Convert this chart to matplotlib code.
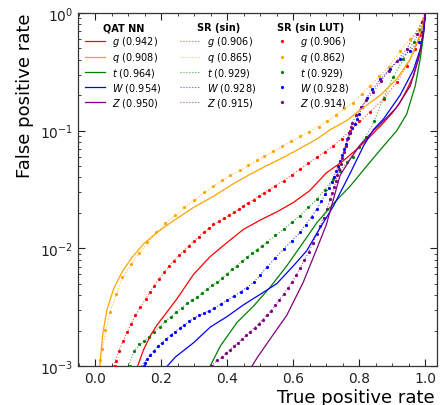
import numpy as np
import matplotlib
matplotlib.use("Agg")
import matplotlib.pyplot as plt
from matplotlib.ticker import MultipleLocator, LogLocator, NullFormatter

# ---------------------------------------------------------------------------
# ROC curves: (true positive rate, false positive rate) pairs per jet class
# ---------------------------------------------------------------------------
classes = ["g", "q", "t", "W", "Z"]
colors = ["red", "orange", "green", "blue", "purple"]

auc_qat = [0.942, 0.908, 0.964, 0.954, 0.950]
auc_sr = [0.906, 0.865, 0.929, 0.928, 0.915]
auc_lut = [0.906, 0.862, 0.929, 0.928, 0.914]

# QAT NN
qat_g = [(0.128, 1.00e-3), (0.146, 1.38e-3), (0.167, 1.82e-3), (0.187, 2.24e-3), (0.217, 2.88e-3),
         (0.247, 3.72e-3), (0.298, 6.03e-3), (0.348, 8.51e-3), (0.399, 1.12e-2), (0.449, 1.45e-2),
         (0.50, 1.74e-2), (0.55, 2.04e-2), (0.60, 2.45e-2), (0.65, 3.09e-2), (0.70, 4.37e-2),
         (0.75, 5.50e-2), (0.80, 7.24e-2), (0.84, 9.33e-2), (0.874, 0.117), (0.90, 0.141),
         (0.924, 0.174), (0.945, 0.224), (0.965, 0.295), (0.987, 0.490), (0.997, 0.776), (1.0, 1.0)]
qat_q = [(0.013, 1.00e-3), (0.015, 1.17e-3), (0.023, 1.95e-3), (0.035, 3.02e-3), (0.055, 4.52e-3),
         (0.081, 6.31e-3), (0.111, 8.39e-3), (0.146, 1.09e-2), (0.187, 1.37e-2), (0.237, 1.72e-2),
         (0.298, 2.23e-2), (0.358, 2.77e-2), (0.419, 3.55e-2), (0.47, 4.27e-2), (0.52, 5.05e-2),
         (0.571, 5.94e-2), (0.621, 7.08e-2), (0.672, 8.51e-2), (0.712, 0.102), (0.763, 0.122),
         (0.80, 0.148), (0.864, 0.200), (0.914, 0.275), (0.955, 0.407), (0.98, 0.603),
         (0.995, 0.832), (1.0, 1.0)]
qat_t = [(0.348, 1.00e-3), (0.379, 1.48e-3), (0.429, 2.34e-3), (0.48, 3.24e-3), (0.53, 4.68e-3),
         (0.58, 7.08e-3), (0.63, 1.12e-2), (0.672, 1.66e-2), (0.722, 2.40e-2), (0.773, 3.39e-2),
         (0.823, 5.01e-2), (0.874, 7.41e-2), (0.914, 0.100), (0.944, 0.138), (0.97, 0.240),
         (0.985, 0.407), (0.995, 0.646), (1.0, 1.0)]
qat_W = [(0.218, 1.00e-3), (0.242, 1.19e-3), (0.298, 1.58e-3), (0.348, 2.14e-3), (0.399, 2.63e-3),
         (0.449, 3.31e-3), (0.50, 4.07e-3), (0.55, 5.01e-3), (0.60, 7.08e-3), (0.641, 9.55e-3),
         (0.672, 1.35e-2), (0.722, 2.29e-2), (0.773, 4.37e-2), (0.813, 7.41e-2), (0.843, 0.102),
         (0.874, 0.126), (0.924, 0.200), (0.965, 0.331), (0.985, 0.490), (0.997, 0.724), (1.0, 1.0)]
qat_Z = [(0.475, 1.00e-3), (0.49, 1.17e-3), (0.53, 1.70e-3), (0.58, 2.69e-3), (0.63, 5.13e-3),
         (0.672, 1.00e-2), (0.70, 1.58e-2), (0.742, 4.17e-2), (0.773, 5.75e-2), (0.803, 7.59e-2),
         (0.843, 0.100), (0.88, 0.126), (0.914, 0.158), (0.955, 0.240), (0.98, 0.407),
         (0.993, 0.646), (1.0, 1.0)]

# SR (sin)
sr_g = [(0.055, 1.00e-3), (0.071, 1.35e-3), (0.096, 1.94e-3), (0.121, 2.69e-3), (0.152, 3.72e-3),
        (0.192, 5.50e-3), (0.237, 7.87e-3), (0.283, 1.05e-2), (0.328, 1.37e-2), (0.374, 1.70e-2),
        (0.419, 2.02e-2), (0.464, 2.44e-2), (0.51, 2.96e-2), (0.571, 3.76e-2), (0.621, 4.73e-2),
        (0.672, 5.94e-2), (0.722, 7.46e-2), (0.773, 0.100), (0.833, 0.145), (0.874, 0.186),
        (0.914, 0.257), (0.944, 0.355), (0.97, 0.490), (0.995, 0.832), (1.0, 1.0)]
sr_q = [(0.013, 1.00e-3), (0.02, 1.38e-3), (0.043, 2.85e-3), (0.081, 5.60e-3), (0.131, 9.00e-3),
        (0.184, 1.35e-2), (0.24, 1.90e-2), (0.298, 2.55e-2), (0.355, 3.35e-2), (0.409, 4.15e-2),
        (0.464, 5.05e-2), (0.538, 6.65e-2), (0.621, 8.90e-2), (0.702, 0.120), (0.78, 0.172),
        (0.833, 0.241), (0.889, 0.346), (0.924, 0.479), (0.955, 0.601), (0.98, 0.731), (1.0, 1.0)]
sr_t = [(0.10, 1.00e-3), (0.118, 1.35e-3), (0.146, 1.62e-3), (0.177, 1.94e-3), (0.212, 2.40e-3),
        (0.245, 2.86e-3), (0.278, 3.40e-3), (0.308, 3.84e-3), (0.338, 4.52e-3), (0.369, 5.15e-3),
        (0.399, 6.05e-3), (0.429, 7.13e-3), (0.46, 8.39e-3), (0.49, 9.77e-3), (0.52, 1.13e-2),
        (0.571, 1.46e-2), (0.621, 1.90e-2), (0.672, 2.63e-2), (0.722, 3.89e-2), (0.763, 5.38e-2),
        (0.80, 7.24e-2), (0.82, 8.91e-2), (0.845, 0.120), (0.874, 0.191), (0.904, 0.288),
        (0.934, 0.407), (0.965, 0.562), (0.985, 0.724), (1.0, 1.0)]
sr_W = [(0.14, 1.00e-3), (0.165, 1.23e-3), (0.19, 1.48e-3), (0.215, 1.70e-3), (0.24, 1.95e-3),
        (0.27, 2.24e-3), (0.30, 2.57e-3), (0.33, 2.82e-3), (0.36, 3.09e-3), (0.40, 3.63e-3),
        (0.44, 4.27e-3), (0.48, 5.13e-3), (0.52, 6.92e-3), (0.571, 9.89e-3), (0.621, 1.37e-2),
        (0.672, 2.16e-2), (0.707, 3.24e-2), (0.731, 4.57e-2), (0.755, 6.92e-2), (0.773, 9.55e-2),
        (0.793, 0.126), (0.823, 0.191), (0.864, 0.275), (0.924, 0.407), (0.98, 0.562),
        (0.995, 0.832), (1.0, 1.0)]
sr_Z = [(0.35, 1.00e-3), (0.384, 1.20e-3), (0.42, 1.48e-3), (0.458, 1.82e-3), (0.495, 2.29e-3),
        (0.533, 2.95e-3), (0.571, 4.07e-3), (0.609, 5.89e-3), (0.647, 9.33e-3), (0.672, 1.32e-2),
        (0.702, 2.16e-2), (0.724, 3.31e-2), (0.744, 5.25e-2), (0.764, 8.51e-2), (0.779, 0.117),
        (0.805, 0.158), (0.843, 0.214), (0.889, 0.324), (0.944, 0.494), (0.99, 0.834), (1.0, 1.0)]

# SR (sin LUT), one marker per working point
lut_g = [(0.058, 1.00e-3), (0.063, 1.10e-3), (0.071, 1.35e-3), (0.083, 1.62e-3), (0.096, 1.94e-3),
         (0.108, 2.29e-3), (0.121, 2.69e-3), (0.136, 3.16e-3), (0.152, 3.72e-3), (0.165, 4.27e-3),
         (0.177, 4.82e-3), (0.192, 5.50e-3), (0.207, 6.27e-3), (0.222, 7.08e-3), (0.237, 7.87e-3),
         (0.253, 8.71e-3), (0.268, 9.55e-3), (0.283, 1.05e-2), (0.298, 1.16e-2), (0.313, 1.26e-2),
         (0.328, 1.37e-2), (0.343, 1.49e-2), (0.358, 1.61e-2), (0.374, 1.70e-2), (0.389, 1.80e-2),
         (0.404, 1.91e-2), (0.419, 2.02e-2), (0.434, 2.15e-2), (0.449, 2.29e-2), (0.464, 2.44e-2),
         (0.48, 2.60e-2), (0.495, 2.77e-2), (0.51, 2.96e-2), (0.525, 3.16e-2), (0.545, 3.40e-2),
         (0.571, 3.76e-2), (0.596, 4.22e-2), (0.621, 4.73e-2), (0.646, 5.30e-2), (0.672, 5.94e-2),
         (0.697, 6.65e-2), (0.722, 7.46e-2), (0.748, 8.51e-2), (0.773, 0.100), (0.80, 0.120),
         (0.833, 0.145), (0.874, 0.186), (0.914, 0.257), (0.944, 0.355), (0.97, 0.490),
         (0.985, 0.646), (0.995, 0.832)]
lut_q = [(0.015, 1.12e-3), (0.02, 1.40e-3), (0.028, 2.04e-3), (0.043, 2.90e-3), (0.061, 4.12e-3),
         (0.081, 5.71e-3), (0.107, 7.36e-3), (0.131, 9.14e-3), (0.157, 1.13e-2), (0.184, 1.37e-2),
         (0.212, 1.64e-2), (0.24, 1.93e-2), (0.268, 2.26e-2), (0.298, 2.59e-2), (0.328, 3.00e-2),
         (0.355, 3.41e-2), (0.383, 3.79e-2), (0.409, 4.21e-2), (0.438, 4.67e-2), (0.464, 5.14e-2),
         (0.49, 5.68e-2), (0.51, 6.14e-2), (0.538, 6.76e-2), (0.566, 7.46e-2), (0.593, 8.17e-2),
         (0.621, 9.08e-2), (0.649, 9.82e-2), (0.677, 0.107), (0.702, 0.122), (0.73, 0.135),
         (0.755, 0.155), (0.78, 0.172), (0.808, 0.203), (0.833, 0.241), (0.86, 0.290),
         (0.889, 0.346), (0.924, 0.479), (0.955, 0.601), (0.98, 0.731), (0.995, 0.891)]
lut_t = [(0.105, 1.00e-3), (0.118, 1.35e-3), (0.132, 1.55e-3), (0.146, 1.62e-3), (0.162, 1.78e-3),
         (0.177, 1.94e-3), (0.195, 2.16e-3), (0.212, 2.40e-3), (0.228, 2.63e-3), (0.245, 2.86e-3),
         (0.262, 3.13e-3), (0.278, 3.40e-3), (0.293, 3.63e-3), (0.308, 3.84e-3), (0.323, 4.17e-3),
         (0.338, 4.52e-3), (0.354, 4.84e-3), (0.369, 5.15e-3), (0.384, 5.62e-3), (0.399, 6.05e-3),
         (0.414, 6.61e-3), (0.429, 7.13e-3), (0.445, 7.76e-3), (0.46, 8.39e-3), (0.475, 9.12e-3),
         (0.49, 9.77e-3), (0.505, 1.05e-2), (0.52, 1.13e-2), (0.545, 1.29e-2), (0.571, 1.46e-2),
         (0.596, 1.66e-2), (0.621, 1.90e-2), (0.646, 2.24e-2), (0.672, 2.63e-2), (0.697, 3.16e-2),
         (0.722, 3.89e-2), (0.743, 4.57e-2), (0.763, 5.38e-2), (0.78, 6.03e-2), (0.80, 7.24e-2),
         (0.82, 8.91e-2), (0.845, 0.120), (0.874, 0.191), (0.904, 0.288), (0.934, 0.407),
         (0.965, 0.562), (0.985, 0.724)]
lut_W = [(0.146, 1.00e-3), (0.15, 1.07e-3), (0.157, 1.15e-3), (0.165, 1.23e-3), (0.177, 1.35e-3),
         (0.19, 1.48e-3), (0.202, 1.58e-3), (0.215, 1.70e-3), (0.228, 1.82e-3), (0.24, 1.95e-3),
         (0.255, 2.09e-3), (0.27, 2.24e-3), (0.285, 2.40e-3), (0.30, 2.57e-3), (0.315, 2.69e-3),
         (0.33, 2.82e-3), (0.345, 2.95e-3), (0.36, 3.09e-3), (0.38, 3.35e-3), (0.40, 3.63e-3),
         (0.42, 3.94e-3), (0.44, 4.27e-3), (0.46, 4.62e-3), (0.48, 5.13e-3), (0.50, 5.89e-3),
         (0.52, 6.92e-3), (0.545, 8.32e-3), (0.571, 9.89e-3), (0.596, 1.16e-2), (0.621, 1.37e-2),
         (0.64, 1.58e-2), (0.656, 1.84e-2), (0.672, 2.16e-2), (0.685, 2.51e-2), (0.697, 2.88e-2),
         (0.707, 3.24e-2), (0.716, 3.63e-2), (0.724, 4.07e-2), (0.731, 4.57e-2), (0.737, 5.01e-2),
         (0.743, 5.56e-2), (0.749, 6.17e-2), (0.755, 6.92e-2), (0.761, 7.76e-2), (0.767, 8.61e-2),
         (0.773, 9.55e-2), (0.779, 0.105), (0.786, 0.115), (0.793, 0.126), (0.80, 0.138),
         (0.81, 0.158), (0.823, 0.191), (0.84, 0.224), (0.864, 0.275), (0.894, 0.334),
         (0.924, 0.407), (0.955, 0.479), (0.98, 0.562), (0.99, 0.685), (0.995, 0.832)]
lut_Z = [(0.352, 1.00e-3), (0.37, 1.12e-3), (0.384, 1.20e-3), (0.397, 1.29e-3), (0.409, 1.38e-3),
         (0.42, 1.48e-3), (0.433, 1.58e-3), (0.445, 1.70e-3), (0.458, 1.82e-3), (0.47, 1.95e-3),
         (0.483, 2.11e-3), (0.495, 2.29e-3), (0.508, 2.48e-3), (0.52, 2.69e-3), (0.533, 2.95e-3),
         (0.546, 3.27e-3), (0.558, 3.63e-3), (0.571, 4.07e-3), (0.584, 4.57e-3), (0.596, 5.19e-3),
         (0.609, 5.89e-3), (0.621, 6.76e-3), (0.634, 7.94e-3), (0.647, 9.33e-3), (0.66, 1.10e-2),
         (0.672, 1.32e-2), (0.682, 1.55e-2), (0.692, 1.82e-2), (0.702, 2.16e-2), (0.712, 2.63e-2),
         (0.718, 2.95e-2), (0.724, 3.31e-2), (0.729, 3.72e-2), (0.734, 4.17e-2), (0.739, 4.68e-2),
         (0.744, 5.25e-2), (0.749, 5.89e-2), (0.754, 6.61e-2), (0.759, 7.41e-2), (0.764, 8.51e-2),
         (0.769, 9.55e-2), (0.774, 0.107), (0.779, 0.117), (0.79, 0.135), (0.805, 0.158),
         (0.822, 0.182), (0.843, 0.214), (0.865, 0.263), (0.889, 0.324), (0.914, 0.394),
         (0.944, 0.494), (0.975, 0.664), (0.99, 0.834)]

qat_curves = [qat_g, qat_q, qat_t, qat_W, qat_Z]
sr_curves = [sr_g, sr_q, sr_t, sr_W, sr_Z]
lut_curves = [lut_g, lut_q, lut_t, lut_W, lut_Z]

# ---------------------------------------------------------------------------
plt.rcParams["font.family"] = ["DejaVu Sans"]
fig = plt.figure(figsize=(4.40, 4.06), dpi=100)
ax = fig.add_axes([78 / 440, 1 - 367 / 406, 359 / 440, 353 / 406])

h_qat, h_sr, h_lut = [], [], []
for name, col, qc, sc, lc, a1, a2, a3 in zip(classes, colors, qat_curves, sr_curves,
                                             lut_curves, auc_qat, auc_sr, auc_lut):
    s = np.array(sc)
    hs, = ax.plot(s[:, 0], s[:, 1], ls=":", lw=0.8, color=col, alpha=0.7,
                  label=f"${name}$ ({a2:.3f})", zorder=2)
    l = np.array(lc)
    hl, = ax.plot(l[:, 0], l[:, 1], ls="none", marker="o", ms=2.3, mew=0, color=col,
                  label=f"${name}$ ({a3:.3f})", zorder=3)
    q = np.array(qc)
    hq, = ax.plot(q[:, 0], q[:, 1], ls="-", lw=0.9, color=col,
                  label=f"${name}$ ({a1:.3f})", zorder=4)
    h_qat.append(hq)
    h_sr.append(hs)
    h_lut.append(hl)

ax.set_yscale("log")
ax.set_xlim(-0.053, 1.036)
ax.set_ylim(1e-3, 1.0)

ax.xaxis.set_major_locator(MultipleLocator(0.2))
ax.xaxis.set_minor_locator(MultipleLocator(0.05))
ax.yaxis.set_major_locator(LogLocator(base=10, numticks=10))
ax.yaxis.set_minor_locator(LogLocator(base=10, subs=np.arange(2, 10), numticks=10))
ax.yaxis.set_minor_formatter(NullFormatter())
ax.tick_params(which="both", direction="in", top=True, right=True, labelsize=10,
               colors="#222222")
ax.tick_params(which="major", length=5, width=0.8)
ax.tick_params(which="minor", length=2.5, width=0.6)
for sp in ax.spines.values():
    sp.set_color("#333333")
    sp.set_linewidth(0.9)

ax.set_xlabel("True positive rate", fontsize=13, ha="right")
ax.xaxis.set_label_coords(0.993, -0.062, transform=ax.transAxes)
ax.xaxis.label.set_va("top")
ax.set_ylabel("False positive rate", fontsize=13, loc="top", labelpad=4)

legend_kw = dict(loc="upper left", frameon=False, fontsize=7, borderpad=0,
                 borderaxespad=0, labelspacing=0.2, handlelength=2.0, handletextpad=0.8,
                 title_fontproperties={"weight": "bold", "size": 7})
leg1 = ax.legend(handles=h_qat, title="QAT NN", bbox_to_anchor=(0.02, 0.974), **legend_kw)
ax.add_artist(leg1)
leg2 = ax.legend(handles=h_sr, title="SR (sin)", bbox_to_anchor=(0.284, 0.974), **legend_kw)
ax.add_artist(leg2)
leg3 = ax.legend(handles=h_lut, title="SR (sin LUT)", bbox_to_anchor=(0.542, 0.974),
                 numpoints=1, **legend_kw)

fig.savefig("out.png", dpi=100)
